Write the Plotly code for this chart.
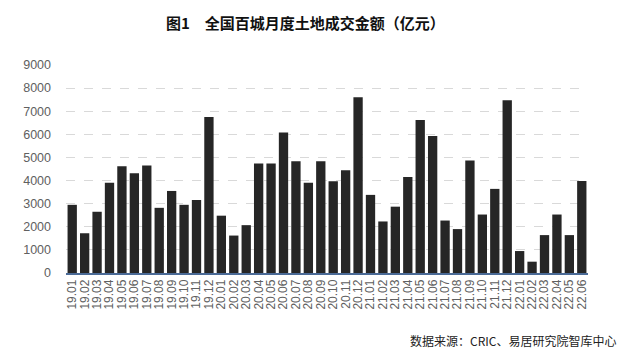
import plotly.graph_objects as go

months = ["19.01","19.02","19.03","19.04","19.05","19.06","19.07","19.08","19.09","19.10","19.11","19.12",
          "20.01","20.02","20.03","20.04","20.05","20.06","20.07","20.08","20.09","20.10","20.11","20.12",
          "21.01","21.02","21.03","21.04","21.05","21.06","21.07","21.08","21.09","21.10","21.11","21.12",
          "22.01","22.02","22.03","22.04","22.05","22.06"]
amounts = [2950, 1720, 2650, 3900, 4620, 4320, 4650, 2820, 3550, 2950, 3160, 6750,
           2480, 1620, 2070, 4740, 4740, 6080, 4830, 3900, 4830, 3970, 4450, 7600,
           3380, 2230, 2870, 4150, 6620, 5930, 2270, 1900, 4870, 2530, 3640, 7470,
           950, 490, 1640, 2530, 1640, 3980]
y_ticks = [0, 1000, 2000, 3000, 4000, 5000, 6000, 7000, 8000, 9000]

title_text = "图1　全国百城月度土地成交金额（亿元）"
source_text = "数据来源：CRIC、易居研究院智库中心"

fig = go.Figure()
fig.add_trace(go.Bar(x=months, y=amounts, marker=dict(color="#262626", line=dict(width=0)),
                     hoverinfo="x+y"))

# page has an 8px body margin, so the figure is offset by 8px
OFF = 8
W, H = 640 - OFF, 363 - OFF
L, R, T, B = 66 - OFF, 52, 65 - OFF, 90
ph = H - T - B
pw = W - L - R

def px_x(x):
    return (x - OFF - L) / pw

def px_y(y):
    return (H - B - (y - OFF)) / ph

fig.update_layout(
    width=W, height=H,
    margin=dict(l=L, r=R, t=T, b=B, pad=0),
    paper_bgcolor="white", plot_bgcolor="white",
    bargap=0.25,
    showlegend=False,
    font=dict(family="Liberation Sans, Arial, sans-serif", color="#595959"),
)
fig.update_xaxes(
    type="category", tickmode="array", tickvals=months, ticktext=months,
    tickangle=-90, tickfont=dict(size=12, color="#606060"), automargin=False,
    showline=True, linecolor="#4A6A96", linewidth=1.5, ticks="", showgrid=False,
)
fig.update_yaxes(
    range=[0, 9000], tickvals=y_ticks, tickfont=dict(size=12.5, color="#606060"),
    showgrid=True, gridcolor="#D9D9D9", griddash="dash", gridwidth=1, automargin=False,
    zeroline=False, ticks="", showline=False, ticklabelstandoff=14,
)
fig.add_annotation(text="<b>" + title_text + "</b>", xref="paper", yref="paper",
                   x=px_x(305), y=px_y(22), xanchor="center", yanchor="middle",
                   showarrow=False, font=dict(size=15, color="#111111", family="Noto Sans CJK SC"))
fig.add_annotation(text=source_text, xref="paper", yref="paper",
                   x=px_x(618), y=px_y(340), xanchor="right", yanchor="middle",
                   showarrow=False, font=dict(size=12, color="#222222", family="Noto Sans CJK SC"))

fig.write_html("out.html")
